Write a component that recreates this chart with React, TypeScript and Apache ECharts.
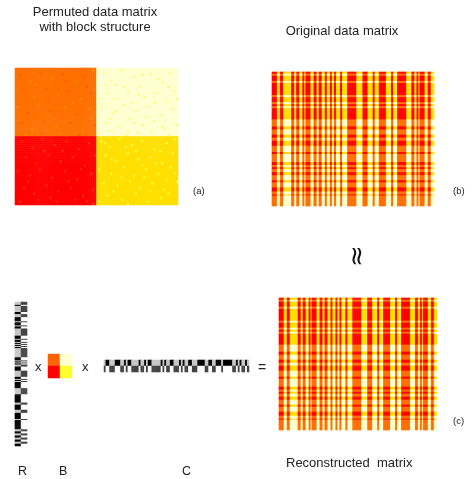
import React, { useEffect, useRef } from "react";
import * as echarts from "echarts";

// Column groups of the original matrix, alternating run lengths read in pixels (first run = "strong" column)
const columnRuns = [5,3,3,8,3,2,3,3,2,1,5,3,3,2,3,3,2,3,2,2,2,4,2,5,9,6,5,5,2,4,7,5,2,4,9,5,3,2,2,1,5,3,3,3];
// Row spans of the matrices that belong to the orange / pale row group, read in pixels
const weakRowSpans = [[2,4],[9,11],[23,25],[30,32],[34,36],[47,54],[57,62],[65,68],[73,79],[81,89],[92,94],[96,99],[102,107],[109,114],[118,121],[122,132]];
// R factor, alternating runs in pixels, starting with a gray/dark row
const rFactorRuns = [3,1,6,2,3,4,1,3,1,2,7,3,1,2,1,1,1,1,1,1,9,3,1,1,1,1,2,4,6,2,1,1,1,6,6,8,2,5,3,6,1,9,2,2,2,2,2,2,2,2];
// C factor, columns with a black top cell
const cFactorBlack = [1,2,6,7,8,11,13,14,19,22,24,25,31,33,36,37,41,43,46,47,51,52,53,54,57,58,61,62,63,65,66,67,68,69,72,74,77];
// Block centre matrix
const blockValues = [[11, 0], [6, 12]];
// Speckles: [column, row] in a 80 x 68 cell grid
const speckPale = [[43,2],[47,6],[52,1],[58,4],[61,9],[66,3],[72,7],[76,2],[45,12],[50,15],[55,11],[63,14],[69,12],[74,16],[78,11],[42,19],[48,22],[53,18],[59,21],[65,19],[71,23],[77,20],[44,27],[51,29],[56,25],[62,28],[68,26],[73,30],[41,32],[47,31],[54,33],[60,32],[67,31],[75,33],[49,8],[57,17],[64,24],[70,5],[46,25],[79,28],[44,8],[53,9],[60,13],[75,9],[41,15],[68,17],[58,27],[49,21],[72,29],[79,15],[62,3],[55,31]];
const speckYellow = [[42,36],[46,39],[51,35],[57,38],[62,36],[68,40],[74,37],[78,35],[44,43],[49,46],[55,42],[60,45],[66,44],[72,47],[77,42],[41,50],[47,52],[53,49],[58,53],[64,50],[70,52],[76,49],[43,57],[50,58],[56,56],[61,59],[67,57],[73,60],[79,56],[45,63],[52,65],[59,62],[65,66],[71,64],[75,62],[48,61],[63,54],[69,47],[54,39],[41,66],[44,37],[59,41],[71,41],[47,45],[52,54],[78,52],[66,61],[55,67],[74,55],[62,48]];
const speckOrange = [[2,3],[7,6],[12,2],[18,5],[23,3],[29,7],[34,4],[38,1],[4,11],[9,14],[15,10],[21,13],[26,11],[32,15],[37,12],[1,19],[6,22],[11,18],[17,21],[24,19],[30,23],[36,20],[3,27],[8,30],[14,26],[20,29],[27,27],[33,31],[39,28],[5,33],[13,32],[22,32],[31,33],[10,8],[16,16],[28,17],[35,9],[19,25],[25,6],[37,25]];
const speckRed = [[3,36],[8,39],[13,35],[19,38],[25,36],[31,40],[36,37],[5,44],[10,47],[16,43],[22,46],[28,44],[34,48],[39,43],[1,51],[7,53],[12,50],[18,54],[24,51],[30,55],[37,52],[4,59],[9,62],[15,58],[21,61],[27,59],[33,63],[38,60],[2,66],[11,65],[20,66],[29,65],[35,66],[14,41],[26,56],[6,56],[32,50],[17,64],[23,41],[38,67]];

const PALETTE = [
  "#ffffd2", "#ffff70", "#ffdf00", "#ff8c00", "#ff7000", "#ff5400", "#ff0000",
  "#000000", "#c6c6c6", "#444444", "#ffffff", "#ff6400", "#ffff30", "#ff3000", "#ffff40",
];
const [PALE, LIGHTY, YELLOW, ORANGE_S, ORANGE, DEEP, RED, BLACK, GRAY, DARK, WHITE, , , RED_S, YELLOW_S] = PALETTE.map((_, i) => i);
const MATRIX_ROWS = 132;

function expandRuns(runs: number[]): boolean[] {
  const out: boolean[] = [];
  runs.forEach((n, i) => { for (let k = 0; k < n; k++) out.push(i % 2 === 0); });
  return out;
}
const columnFlags = expandRuns(columnRuns);
const rFlags = expandRuns(rFactorRuns);

function stripedMatrix(): number[][] {
  const out: number[][] = [];
  for (let r = 0; r < MATRIX_ROWS; r++) {
    const weak = weakRowSpans.some(([a, b]) => r >= a && r < b);
    columnFlags.forEach((strong, c) => {
      out.push([c, r, strong ? (weak ? ORANGE : RED) : (weak ? PALE : YELLOW)]);
    });
  }
  return out;
}

function blockMatrix(): number[][] {
  const m: number[][] = [];
  for (let r = 0; r < 68; r++) {
    const row: number[] = [];
    for (let c = 0; c < 80; c++) row.push(r < 34 ? (c < 40 ? ORANGE : PALE) : (c < 40 ? RED : YELLOW));
    m.push(row);
  }
  speckPale.forEach(([c, r]) => (m[r][c] = LIGHTY));
  speckYellow.forEach(([c, r]) => (m[r][c] = YELLOW_S));
  speckOrange.forEach(([c, r], i) => (m[r][c] = i % 2 ? ORANGE_S : DEEP));
  speckRed.forEach(([c, r]) => (m[r][c] = RED_S));
  const out: number[][] = [];
  m.forEach((row, r) => row.forEach((v, c) => out.push([c, r, v])));
  return out;
}

function rFactor(): number[][] {
  const out: number[][] = [];
  rFlags.forEach((g, r) => {
    out.push([0, r, g ? GRAY : BLACK]);
    out.push([1, r, g ? DARK : WHITE]);
  });
  return out;
}

function cFactor(): number[][] {
  const out: number[][] = [];
  for (let c = 0; c < 79; c++) {
    const b = cFactorBlack.includes(c);
    out.push([c, 0, b ? BLACK : GRAY]);
    out.push([c, 1, b ? WHITE : DARK]);
  }
  return out;
}

function bMatrix(): number[][] {
  const out: number[][] = [];
  blockValues.forEach((row, r) => row.forEach((v, c) => out.push([c, r, v])));
  return out;
}

const idx = (n: number) => Array.from({ length: n }, (_, i) => String(i));

const panels = [
  { rect: [15, 68, 163, 137], nx: 80, ny: 68, data: blockMatrix() },
  { rect: [272, 72, 162, 134], nx: columnFlags.length, ny: MATRIX_ROWS, data: stripedMatrix() },
  { rect: [279, 298, 158, 132], nx: columnFlags.length, ny: MATRIX_ROWS, data: stripedMatrix() },
  { rect: [15, 302, 12, 144], nx: 2, ny: rFlags.length, data: rFactor() },
  { rect: [48, 354, 24, 24], nx: 2, ny: 2, data: bMatrix() },
  { rect: [104, 360, 145, 12], nx: 79, ny: 2, data: cFactor() },
];

const FONT = '"Liberation Sans", Arial, sans-serif';
const label = (text: string, x: number, y: number, size: number, align = "left") => ({
  type: "text",
  x,
  y,
  silent: true,
  style: { text, fontFamily: FONT, fontSize: size, fill: "#222222", align, verticalAlign: "middle" },
});

export default function App() {
  const ref = useRef<HTMLDivElement>(null);
  useEffect(() => {
    document.body.style.margin = "0";
    const chart = echarts.init(ref.current!, undefined, { renderer: "svg" });
    chart.setOption({
      animation: false,
      backgroundColor: "#ffffff",
      grid: panels.map((p) => ({ left: p.rect[0], top: p.rect[1], width: p.rect[2], height: p.rect[3] })),
      xAxis: panels.map((p, i) => ({ type: "category", gridIndex: i, data: idx(p.nx), show: false })),
      yAxis: panels.map((p, i) => ({ type: "category", gridIndex: i, data: idx(p.ny), show: false, inverse: true })),
      visualMap: {
        type: "piecewise",
        show: false,
        dimension: 2,
        pieces: PALETTE.map((color, value) => ({ value, color })),
      },
      series: panels.map((p, i) => ({
        type: "heatmap",
        xAxisIndex: i,
        yAxisIndex: i,
        data: p.data,
        silent: true,
        progressive: 0,
        emphasis: { disabled: true },
      })),
      graphic: [
        label("Permuted data matrix", 95, 11, 13, "center"),
        label("with block structure", 95, 26, 13, "center"),
        label("Original data matrix", 342, 30, 13, "center"),
        label("(a)", 193, 190, 9.5),
        label("(b)", 453, 190, 9.5),
        label("(c)", 453, 420, 9.5),
        label("x", 35, 366, 13),
        label("x", 82, 366, 13),
        label("=", 258, 367, 14),
        label("R", 18, 471, 12.5),
        label("B", 59, 471, 12.5),
        label("C", 182, 471, 12.5),
        label("Reconstructed  matrix", 286, 462, 13),
        {
          type: "text",
          x: 356,
          y: 256,
          rotation: Math.PI / 2,
          silent: true,
          style: { text: "≈", fontFamily: '"DejaVu Sans"', fontSize: 26, fill: "#111111", align: "center", verticalAlign: "middle" },
        },
      ],
    });
    return () => chart.dispose();
  }, []);
  return (
    <div
      ref={ref}
      style={{ position: "absolute", left: 0, top: 0, width: 476, height: 479, background: "#fff", filter: "blur(0.5px)" }}
    />
  );
}
